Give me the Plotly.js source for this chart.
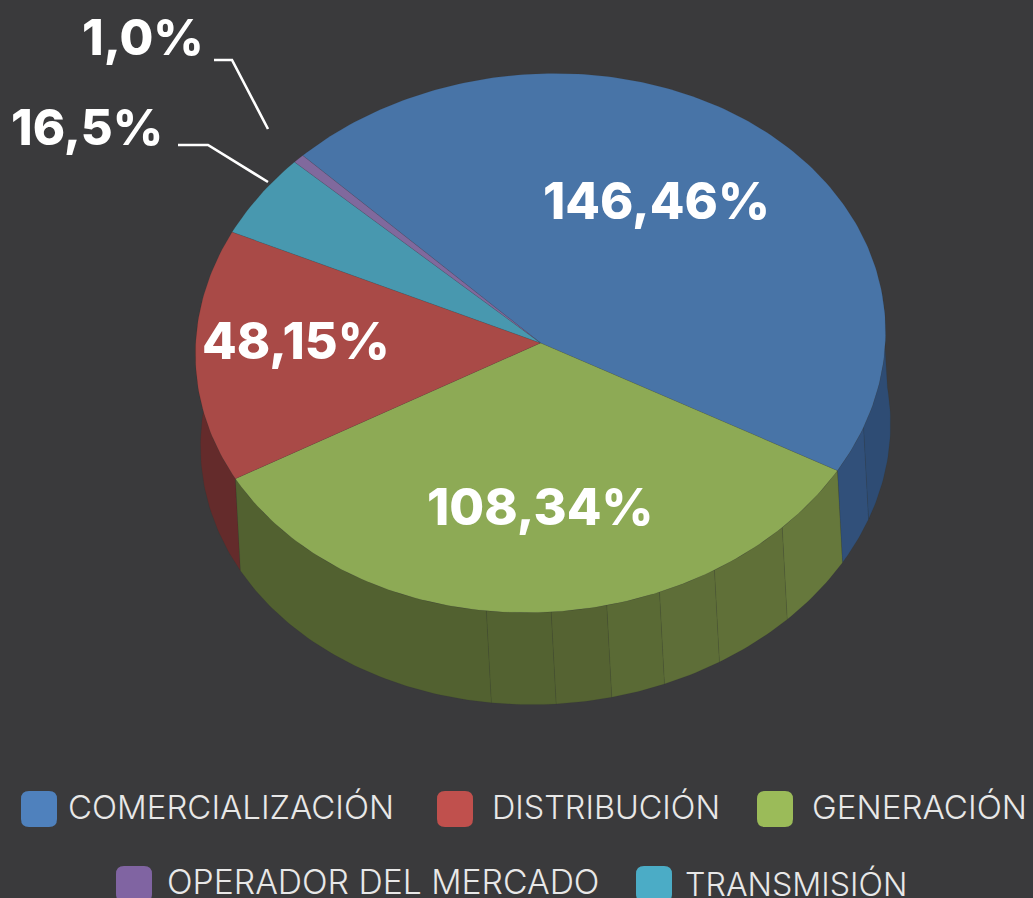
<!DOCTYPE html>
<html><head><meta charset="utf-8">
<script src="https://cdn.plot.ly/plotly-3.0.1.min.js"></script>
<style>html,body{margin:0;padding:0;background:#3a3a3c;overflow:hidden}#c{width:1033px;height:898px}</style>
</head><body><div id="c"></div>
<script>
// --- data ---
const categories = ['COMERCIALIZACIÓN','GENERACIÓN','DISTRIBUCIÓN','TRANSMISIÓN','OPERADOR DEL MERCADO'];
const values     = [146.2, 108.2, 48.55, 15.9, 1.7];   // slice sizes as measured on the drawn pie
const valueLabels= ['146,46%','108,34%','48,15%','16,5%','1,0%'];
const topColors  = ['#4874a7','#8daa55','#a94a47','#4898af','#80699d'];
const wallColors = ['#30507a','#536130','#642b2b','#2f6b7c','#5a4a70'];
const legendColors=['#4f81bd','#9bbb59','#c0504d','#4bacc6','#8064a2'];

// wall shading facets (angle in degrees where the facet ends, shade)
const greenFacetEnds   = [-49.2,-63.4,-73.5,-82.6,-91.9,-102.7,-157];
const greenFacetShades = ['#66783c','#607038','#5e6e38','#5a6a35','#556332','#536231','#526130'];
const blueFacetEnds    = [-24.2,5];
const blueFacetShades  = ['#31507a','#2e4c74'];

// --- geometry: a slightly rotated ellipse, the wall below it offset by (dX,dY) ---
const W=1033,H=898, cx=540.5, cy=343, ra=345.5, rb=269, tilt=4.7, dX=5, dY=92, startAngle=129.9;
const rad=d=>d*Math.PI/180, cT=Math.cos(rad(tilt)), sT=Math.sin(rad(tilt));
const px=(a,o)=>cx+ra*Math.cos(rad(a))*cT-rb*Math.sin(rad(a))*sT+(o?dX:0);
const py=(a,o)=>cy-ra*Math.cos(rad(a))*sT-rb*Math.sin(rad(a))*cT+(o?dY:0);
function arc(a,b,o){const n=Math.max(2,Math.ceil(Math.abs(b-a)));const xs=[],ys=[];
  for(let i=0;i<=n;i++){const t=a+(b-a)*i/n;xs.push(px(t,o));ys.push(py(t,o));}return [xs,ys];}

const total=values.reduce((s,v)=>s+v,0);
const bounds=[startAngle];
values.forEach(v=>bounds.push(bounds[bounds.length-1]-v/total*360));

function poly(xs,ys,fill,line,name){return {type:'scatter',mode:'lines',x:xs,y:ys,fill:'toself',fillcolor:fill,
  line:{color:line,width:0.6},hoverinfo:'name',name:name,showlegend:false};}
function wall(a,b,fill,name){const t=arc(a,b,false),u=arc(b,a,true);
  return poly(t[0].concat(u[0],[t[0][0]]),t[1].concat(u[1],[t[1][0]]),fill,'rgba(40,45,40,0.18)',name);}

const traces=[];
traces.push(wall(bounds[2],-195,wallColors[2],categories[2]));
let a0=bounds[1];
blueFacetEnds.forEach((e,i)=>{traces.push(wall(a0,e,blueFacetShades[i],categories[0]));a0=e;});
a0=bounds[1];
greenFacetEnds.forEach((e,i)=>{const end=i===greenFacetEnds.length-1?bounds[2]:e;
  traces.push(wall(a0,end,greenFacetShades[i],categories[1]));a0=end;});
values.forEach((v,i)=>{const t=arc(bounds[i],bounds[i+1],false);
  traces.push(poly([cx].concat(t[0],[cx]),[cy].concat(t[1],[cy]),topColors[i],'rgba(50,50,50,0.15)',categories[i]));});

// --- labels ---
const labelFont=(s)=>({family:'Inter, "Open Sans", sans-serif',size:s,color:'#ffffff',weight:800});
const labelPos=[[656.5,200],[539.5,506],[295.5,340],[86.5,127],[143,37]];
const labelSizes=[50.5,50.5,50.5,49,49];
const ann=valueLabels.map((t,i)=>({text:t,x:labelPos[i][0],y:labelPos[i][1],xref:'x',yref:'y',showarrow:false,
  xanchor:'center',yanchor:'middle',font:labelFont(labelSizes[i])}));
const legendRows=[[0,66,807,33],[2,490,807,32.4],[1,810,807,33.2],[4,165,881,33.7],[3,683,884,32.2]];
legendRows.forEach(r=>ann.push({text:categories[r[0]],x:r[1],y:r[2],xref:'x',yref:'y',showarrow:false,
  xanchor:'left',yanchor:'middle',font:{family:'Inter, Lato, sans-serif',size:r[3],color:'#e8e8e8',weight:300}}));

function roundedSquare(x,y,s,r){return `M${x+r},${y}H${x+s-r}Q${x+s},${y} ${x+s},${y+r}V${y+s-r}Q${x+s},${y+s} ${x+s-r},${y+s}H${x+r}Q${x},${y+s} ${x},${y+s-r}V${y+r}Q${x},${y} ${x+r},${y}Z`;}
const swatches=[[0,21,791],[2,437,791],[1,757,791],[4,116,866],[3,636,866]];
const shapes=swatches.map(s=>({type:'path',xref:'x',yref:'y',path:roundedSquare(s[1],s[2],36,8),
  fillcolor:legendColors[s[0]],line:{width:0}}));
[['M214,60L232,60L268,129'],['M178,145L208,145L268,182']].forEach(p=>shapes.push({type:'path',xref:'x',yref:'y',path:p[0],
  line:{color:'#ffffff',width:2.6}}));

Plotly.newPlot('c',traces,{
  width:W,height:H,margin:{l:0,r:0,t:0,b:0},paper_bgcolor:'#3a3a3c',plot_bgcolor:'#3a3a3c',showlegend:false,
  xaxis:{range:[0,W],visible:false,fixedrange:true},yaxis:{range:[H,0],visible:false,fixedrange:true},
  annotations:ann,shapes:shapes
},{displayModeBar:false,staticPlot:true});
</script></body></html>
